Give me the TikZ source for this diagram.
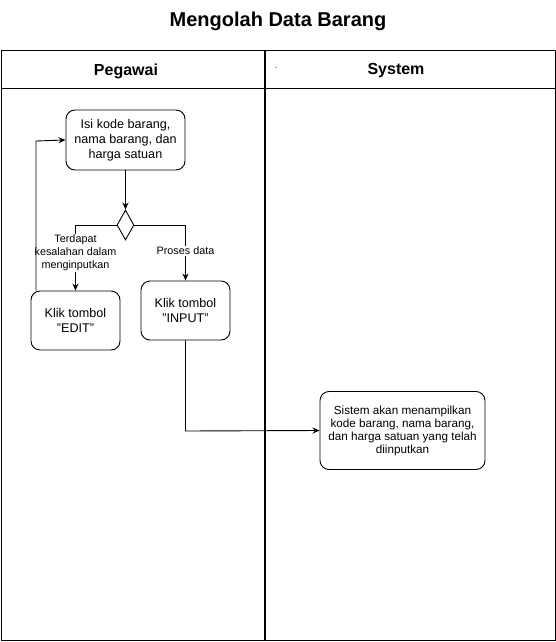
\documentclass[tikz,border=0pt]{standalone}
\usepackage{fontspec}
\setmainfont{Liberation Sans}
\usetikzlibrary{arrows.meta,shapes.geometric}
\begin{document}
\begin{tikzpicture}[x=1pt,y=-1pt,
  act/.style={draw,rounded corners=9pt,line width=0.9pt,align=center,font=\fontsize{12.6}{15}\selectfont,inner sep=0pt},
  lbl/.style={fill=white,align=center,font=\fontsize{10.8}{13}\selectfont,inner sep=1pt},
  flow/.style={line width=0.9pt,-{Stealth[length=7pt,width=6pt]}},
  lane/.style={line width=1pt}]
\useasboundingbox (0,0) rectangle (556,642);
\node[font=\bfseries\fontsize{20}{23}\selectfont] (title) at (278,21) {Mengolah Data Barang};
% pool
\draw[lane] (1,51) rectangle (555,640);
\draw[lane] (1,88) -- (555,88);
\draw[line width=2pt] (265,51) -- (265,640);
\node[font=\bfseries\fontsize{16}{19}\selectfont] (h1) at (126,71) {Pegawai};
\node[font=\bfseries\fontsize{16}{19}\selectfont] (h2) at (396,71) {System};
\node[text=gray,font=\fontsize{9}{10}\selectfont] (dash) at (276,69) {-};
% nodes
\node[act,minimum width=119pt,minimum height=60pt] (isi) at (125.5,140) {Isi kode barang,\\nama barang, dan\\harga satuan};
\node[draw,diamond,line width=0.9pt,minimum width=17pt,minimum height=30pt,inner sep=0pt] (dec) at (125.5,225) {};
\node[act,minimum width=89pt,minimum height=59pt] (edit) at (75.5,320.5) {Klik tombol\\"EDIT"};
\node[act,minimum width=89pt,minimum height=59pt] (input) at (185.5,310.5) {Klik tombol\\"INPUT"};
\node[act,minimum width=165pt,minimum height=78pt,font=\fontsize{11.7}{13}\selectfont] (sys) at (402.5,430.5) {Sistem akan menampilkan\\kode barang, nama barang,\\dan harga satuan yang telah\\diinputkan};
% edges
\draw[flow] (isi.south) -- (dec.north);
\draw[flow] (dec.west) -| node[lbl,pos=0.71] {Terdapat\\kesalahan dalam\\menginputkan} (edit.north);
\draw[flow] (dec.east) -| node[lbl,pos=0.73] {Proses data} (input.north);
\coordinate (c1) at (185.5,431);
\draw[flow] (input.south) -- (c1) -- (sys.west);
\coordinate (c2) at (36,141);
\draw[flow] ([xshift=-39.5pt]edit.north) -- (c2) -- (isi.west);
\end{tikzpicture}
\end{document}
